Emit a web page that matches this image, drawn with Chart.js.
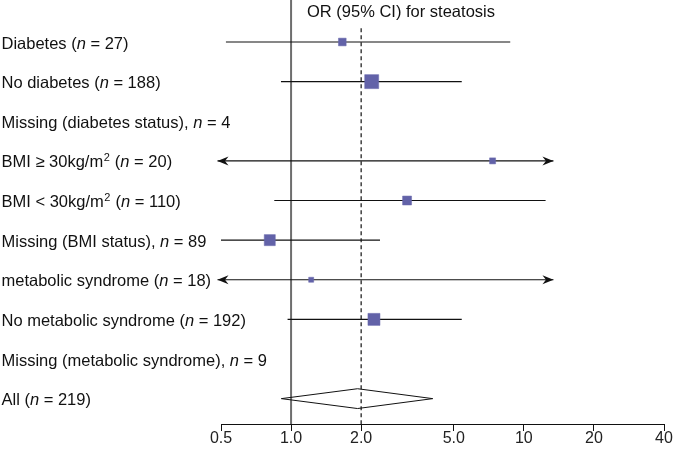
<!DOCTYPE html>
<html>
<head>
<meta charset="utf-8">
<script src="https://cdn.jsdelivr.net/npm/chart.js@4.4.1/dist/chart.umd.min.js"></script>
<style>
  html, body { margin: 0; padding: 0; background: #fff; }
  #wrap { width: 673px; height: 454px; }
</style>
</head>
<body>
<div id="wrap"><canvas id="forest" width="673" height="454"></canvas></div>
<script>
// rows, top to bottom
const rowLabels = [
  "Diabetes (n = 27)",
  "No diabetes (n = 188)",
  "Missing (diabetes status), n = 4",
  "BMI \u2265 30kg/m^2 (n = 20)",
  "BMI < 30kg/m^2 (n = 110)",
  "Missing (BMI status), n = 89",
  "metabolic syndrome (n = 18)",
  "No metabolic syndrome (n = 192)",
  "Missing (metabolic syndrome), n = 9",
  "All (n = 219)"
];
const oddsRatio = [1.66, 2.22, null, 7.34, 3.15, 0.81, 1.22, 2.27, null, 1.93];
const ciLower   = [0.525, 0.905, null, 0.483, 0.847, 0.50, 0.483, 0.966, null, 0.908];
const ciUpper   = [8.74, 5.41, null, 13.4, 12.4, 2.41, 13.4, 5.41, null, 4.06];
// CI runs off the plotted range -> arrow
const arrowLower = [false, false, false, true, false, false, true, false, false, false];
const arrowUpper = [false, false, false, true, false, false, true, false, false, false];
// relative weight of each subgroup (box size)
const boxWeight = [0.55, 1.0, 0, 0.43, 0.64, 0.79, 0.36, 0.86, 0, 0];
const overallRow = 9;
const nullOR = 1.0;
const overallOR = 2.0;

const tickValues = [0.5, 1, 2, 5, 10, 20, 40];
const tickLabels = ["0.5", "1.0", "2.0", "5.0", "10", "20", "40"];
const title = "OR (95% CI) for steatosis";

const FONT = '"Liberation Sans", Arial, Helvetica, sans-serif';
const MAX_BOX = 14;
const Y_MIN = -1.06, Y_MAX = 9.64;

const datasets = [];

// boxes
const boxes = [];
const boxRadius = [];
oddsRatio.forEach((v, i) => {
  if (v == null || i === overallRow) return;
  boxes.push({ x: v, y: i });
  boxRadius.push(boxWeight[i] * MAX_BOX / Math.SQRT2);
});
datasets.push({
  type: "scatter",
  data: boxes,
  pointStyle: "rect",
  pointRadius: boxRadius,
  backgroundColor: "#6262a8",
  borderColor: "#6868ac",
  borderWidth: 0.5,
  order: 0
});

// confidence intervals
ciLower.forEach((lo, i) => {
  if (lo == null || i === overallRow) return;
  datasets.push({
    type: "line",
    data: [{ x: lo, y: i }, { x: ciUpper[i], y: i }],
    borderColor: "#111",
    borderWidth: 1.2,
    pointRadius: 0,
    clip: false,
    order: 1
  });
});

// overall diamond
const h = 0.25;
datasets.push({
  type: "line",
  data: [
    { x: ciLower[overallRow], y: overallRow },
    { x: oddsRatio[overallRow], y: overallRow - h },
    { x: ciUpper[overallRow], y: overallRow },
    { x: oddsRatio[overallRow], y: overallRow + h },
    { x: ciLower[overallRow], y: overallRow }
  ],
  borderColor: "#111",
  borderWidth: 1,
  pointRadius: 0,
  fill: false,
  order: 1
});

// dashed overall line
datasets.push({
  type: "line",
  data: [{ x: overallOR, y: -0.35 }, { x: overallOR, y: Y_MAX }],
  borderColor: "#111",
  borderWidth: 1.2,
  borderDash: [4, 3],
  pointRadius: 0,
  order: 2
});

// no-effect line
datasets.push({
  type: "line",
  data: [{ x: nullOR, y: Y_MIN }, { x: nullOR, y: Y_MAX }],
  borderColor: "#6e6e6e",
  borderWidth: 2,
  pointRadius: 0,
  order: 3
});

function drawLabel(ctx, text, x, y) {
  const base = "16.5px " + FONT;
  text.split(/(\bn\b|\^2)/).forEach(p => {
    if (!p) return;
    if (p === "n") {
      ctx.font = "italic " + base;
      ctx.fillText(p, x, y);
      x += ctx.measureText(p).width;
    } else if (p === "^2") {
      ctx.font = "11px " + FONT;
      ctx.fillText("2", x + 0.5, y - 6);
      x += ctx.measureText("2").width + 1;
    } else {
      ctx.font = base;
      ctx.fillText(p, x, y);
      x += ctx.measureText(p).width;
    }
  });
}

function arrowHead(ctx, x, y, dir) {
  ctx.beginPath();
  ctx.moveTo(x, y);
  ctx.lineTo(x - dir * 11, y - 4.5);
  ctx.lineTo(x - dir * 7.5, y);
  ctx.lineTo(x - dir * 11, y + 4.5);
  ctx.closePath();
  ctx.fill();
}

const annotate = {
  id: "annotate",
  afterDraw(chart) {
    const ctx = chart.ctx;
    const xs = chart.scales.x, ys = chart.scales.y;
    ctx.save();
    ctx.fillStyle = "#111";
    rowLabels.forEach((lab, i) => {
      const py = ys.getPixelForValue(i);
      if (arrowLower[i]) arrowHead(ctx, xs.getPixelForValue(ciLower[i]), py, -1);
      if (arrowUpper[i]) arrowHead(ctx, xs.getPixelForValue(ciUpper[i]), py, 1);
    });
    ctx.textAlign = "left";
    ctx.textBaseline = "alphabetic";
    rowLabels.forEach((lab, i) => {
      drawLabel(ctx, lab, 1.5, ys.getPixelForValue(i) + 6.5);
    });
    ctx.font = "16.5px " + FONT;
    ctx.fillText(title, 307, 17);
    ctx.restore();
  }
};

new Chart(document.getElementById("forest"), {
  type: "scatter",
  data: { datasets: datasets },
  options: {
    responsive: false,
    animation: false,
    devicePixelRatio: 1,
    layout: { autoPadding: false, padding: { left: 221, right: 9, top: 0, bottom: 7 } },
    plugins: { legend: { display: false }, tooltip: { enabled: false } },
    scales: {
      x: {
        type: "logarithmic",
        min: 0.5,
        max: 40,
        afterBuildTicks: s => { s.ticks = tickValues.map(v => ({ value: v })); },
        ticks: {
          autoSkip: false,
          maxRotation: 0,
          padding: 0,
          color: "#222",
          font: { family: FONT, size: 16, lineHeight: 1 },
          callback: (v, i) => tickLabels[i]
        },
        grid: { drawOnChartArea: false, drawTicks: true, tickLength: 7, color: "#111", lineWidth: 1 },
        border: { display: true, color: "#111", width: 1 }
      },
      y: { type: "linear", reverse: true, min: Y_MIN, max: Y_MAX, display: false }
    }
  },
  plugins: [annotate]
});
</script>
</body>
</html>
